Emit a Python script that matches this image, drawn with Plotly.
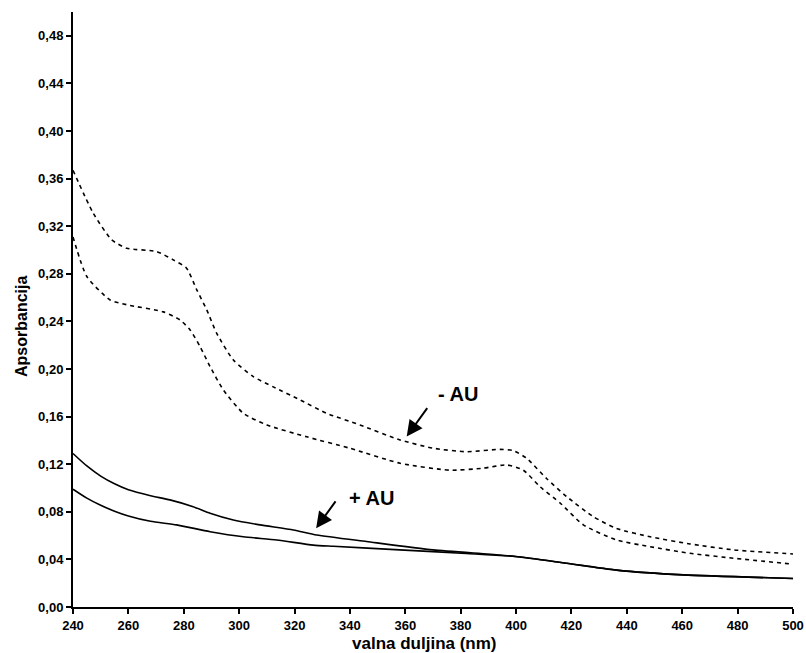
import plotly.graph_objects as go

# Upper dashed curve (-AU, sample 1)
dash_hi_x = [240, 247.3, 254, 259.4, 270.2, 276.2, 281, 284.7, 288.3, 291.9, 297.9, 305.1, 312.3, 322, 331.6,
             343.6, 358.1, 370.1, 382.2, 394.2, 399, 403.8, 411, 418.3, 427.9, 436.3, 448.4, 462.8, 478.5, 500]
dash_hi_y = [0.367, 0.331, 0.3085, 0.3015, 0.2987, 0.2917, 0.2847, 0.2665, 0.2497, 0.230, 0.2076, 0.1936, 0.185,
             0.174, 0.1628, 0.153, 0.1404, 0.1334, 0.1305, 0.1325, 0.1314, 0.125, 0.108, 0.0927, 0.0759, 0.066,
             0.059, 0.053, 0.048, 0.0446]

# Lower dashed curve (-AU, sample 2)
dash_lo_x = [240, 245, 253.4, 259.4, 272.6, 278.6, 282.3, 285.9, 289.5, 294.3, 301.5, 310, 324.4, 340, 358.1,
             376, 388, 396.6, 402.6, 408.7, 416, 424.3, 436.3, 448.4, 462.8, 478.5, 500]
dash_lo_y = [0.311, 0.2777, 0.258, 0.254, 0.248, 0.2413, 0.2328, 0.2188, 0.202, 0.1824, 0.1628, 0.153, 0.143,
             0.1334, 0.1208, 0.115, 0.1166, 0.1194, 0.115, 0.101, 0.0872, 0.069, 0.0563, 0.0507, 0.0451, 0.041, 0.036]

# Upper solid curve (+AU, sample 1)
solid_hi_x = [240, 245, 250, 255, 260, 268, 275, 283.4, 289.5, 297.9, 307.5, 319.6, 328, 346, 370, 394, 405,
              418.3, 436.3, 460.4, 500]
solid_hi_y = [0.129, 0.1185, 0.110, 0.1035, 0.0985, 0.0935, 0.090, 0.0843, 0.0788, 0.0731, 0.069, 0.0647, 0.0605,
              0.055, 0.048, 0.0437, 0.041, 0.0367, 0.031, 0.027, 0.024]

# Lower solid curve (+AU, sample 2)
solid_lo_x = [240, 245, 250, 255, 260, 268, 277.4, 289.5, 301.5, 313.6, 326.8, 334, 358, 382, 400, 418.3,
              436.3, 460.4, 500]
solid_lo_y = [0.099, 0.0915, 0.0855, 0.0805, 0.0765, 0.072, 0.069, 0.0633, 0.059, 0.0563, 0.052, 0.051, 0.048,
              0.045, 0.0424, 0.0367, 0.031, 0.027, 0.024]

x_ticks = [240, 260, 280, 300, 320, 340, 360, 380, 400, 420, 440, 460, 480, 500]
y_ticks = [0.00, 0.04, 0.08, 0.12, 0.16, 0.20, 0.24, 0.28, 0.32, 0.36, 0.40, 0.44, 0.48]
y_tick_labels = ["0,00", "0,04", "0,08", "0,12", "0,16", "0,20", "0,24", "0,28", "0,32", "0,36", "0,40", "0,44", "0,48"]

x_title = "valna duljina (nm)"
y_title = "Apsorbancija"

fig = go.Figure()
for xs, ys in [(dash_hi_x, dash_hi_y), (dash_lo_x, dash_lo_y)]:
    fig.add_trace(go.Scatter(x=xs, y=ys, mode="lines",
                             line=dict(color="black", width=1.6, dash="4px,4px", shape="spline", smoothing=0.6),
                             showlegend=False, hoverinfo="skip", cliponaxis=False))
for xs, ys in [(solid_hi_x, solid_hi_y), (solid_lo_x, solid_lo_y)]:
    fig.add_trace(go.Scatter(x=xs, y=ys, mode="lines",
                             line=dict(color="black", width=1.6, shape="spline", smoothing=0.6),
                             showlegend=False, hoverinfo="skip", cliponaxis=False))

font_bold = "Liberation Sans"

# Annotations: arrows and labels
fig.add_annotation(x=360.5, y=0.1432, ax=368.3, ay=0.1684, xref="x", yref="y", axref="x", ayref="y",
                   text="", showarrow=True, arrowhead=2, arrowsize=1.6, arrowwidth=2, arrowcolor="black")
fig.add_annotation(x=378.9, y=0.1786, xref="x", yref="y", text="<b>- AU</b>", showarrow=False,
                   font=dict(family=font_bold, size=20, color="black"))
fig.add_annotation(x=327.8, y=0.0662, ax=335.2, ay=0.09, xref="x", yref="y", axref="x", ayref="y",
                   text="", showarrow=True, arrowhead=2, arrowsize=1.6, arrowwidth=2, arrowcolor="black")
fig.add_annotation(x=347.9, y=0.092, xref="x", yref="y", text="<b>+ AU</b>", showarrow=False,
                   font=dict(family=font_bold, size=20, color="black"))

# Axis titles (placed as in the reference)
fig.add_annotation(x=(424.7 - 73) / 720, y=0, xref="paper", yref="paper", yshift=-36,
                   text=f"<b>{x_title}</b>", showarrow=False, xanchor="center", yanchor="middle",
                   font=dict(family=font_bold, size=17, color="black"))
fig.add_annotation(x=0, y=(607 - 327) / 595, xref="paper", yref="paper", xshift=-52,
                   text=f"<b>{y_title}</b>", showarrow=False, textangle=-90, xanchor="center", yanchor="middle",
                   font=dict(family=font_bold, size=16, color="black"))

fig.update_layout(
    width=806, height=653,
    margin=dict(l=73, r=13, t=12, b=46),
    paper_bgcolor="white", plot_bgcolor="white",
    font=dict(family=font_bold, color="black"),
    xaxis=dict(range=[240, 500], tickvals=x_ticks, ticktext=[f"<b>{v}</b>" for v in x_ticks],
               showline=True, linecolor="black", linewidth=2, ticks="outside", ticklen=5, tickwidth=2,
               tickcolor="black", showgrid=False, zeroline=False, tickfont=dict(size=13), automargin=False),
    yaxis=dict(range=[0, 0.5], tickvals=y_ticks, ticktext=[f"<b>{t}</b>" for t in y_tick_labels],
               showline=True, linecolor="black", linewidth=2, ticks="outside", ticklen=5, tickwidth=2,
               tickcolor="black", showgrid=False, zeroline=False, tickfont=dict(size=13), automargin=False),
)

fig.write_html("out.html", config={"displayModeBar": False},
               post_script="document.body.style.margin='0';document.body.style.overflow='hidden';")
